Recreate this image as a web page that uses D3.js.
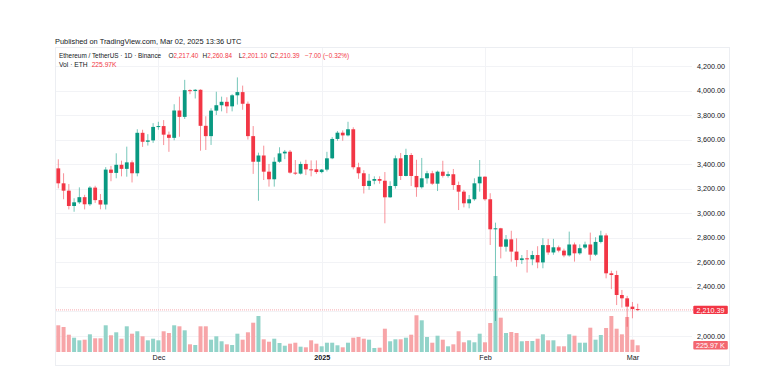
<!DOCTYPE html>
<html>
<head>
<meta charset="utf-8">
<script src="https://cdn.jsdelivr.net/npm/d3@7"></script>
<style>
  body { margin: 0; background: #ffffff; }
  svg { display: block; font-family: "Liberation Sans", Arial, sans-serif; }
</style>
</head>
<body>
<script>
'use strict';

// daily candles, ETH/USDT, 12 Nov 2024 .. 2 Mar 2025
const firstDay = Date.UTC(2024, 10, 12);
const lastDay = Date.UTC(2025, 2, 2);

const opens = [
  3365, 3243, 3183, 3058, 3088, 3130, 3072, 3208, 3106, 3070,
  3355, 3328, 3394, 3361, 3414, 3325, 3655, 3582, 3593, 3703,
  3710, 3640, 3614, 3837, 3785, 4003, 3996, 4006, 3712, 3628,
  3836, 3880, 3908, 3871, 3961, 3987, 3892, 3628, 3419, 3470,
  3338, 3276, 3419, 3487, 3501, 3330, 3322, 3401, 3357, 3357,
  3335, 3355, 3447, 3605, 3656, 3634, 3684, 3374, 3325, 3221,
  3264, 3278, 3264, 3129, 3221, 3447, 3303, 3474, 3303, 3211,
  3284, 3325, 3240, 3338, 3304, 3317, 3229, 3175, 3080, 3113,
  3243, 3297, 3113, 2868, 2876, 2726, 2786, 2686, 2617, 2631,
  2623, 2658, 2598, 2739, 2679, 2721, 2694, 2655, 2744, 2672,
  2719, 2744, 2661, 2765, 2818, 2509, 2495, 2332, 2305, 2237,
  2217.40
];
const highs = [
  3439, 3325, 3237, 3121, 3210, 3149, 3220, 3223, 3156, 3375,
  3385, 3488, 3428, 3542, 3430, 3684, 3680, 3644, 3734, 3745,
  3759, 3665, 3888, 3950, 4087, 4010, 4012, 4010, 3790, 3855,
  3990, 3950, 3945, 3970, 4107, 4040, 3910, 3710, 3493, 3550,
  3401, 3455, 3537, 3515, 3515, 3433, 3420, 3435, 3430, 3430,
  3360, 3500, 3620, 3670, 3675, 3745, 3700, 3411, 3350, 3320,
  3300, 3300, 3335, 3260, 3470, 3490, 3525, 3490, 3435, 3450,
  3345, 3345, 3347, 3427, 3340, 3360, 3257, 3189, 3148, 3284,
  3433, 3300, 3162, 2922, 2880, 2821, 2856, 2794, 2658, 2699,
  2692, 2730, 2795, 2790, 2790, 2735, 2710, 2849, 2760, 2745,
  2767, 2841, 2803, 2856, 2835, 2530, 2530, 2373, 2325, 2275,
  2260.84
];
const lows = [
  3202, 3113, 3030, 3011, 3075, 3030, 3059, 3083, 3031, 3030,
  3260, 3284, 3300, 3297, 3250, 3300, 3540, 3551, 3573, 3680,
  3555, 3500, 3594, 3623, 3768, 3970, 3935, 3509, 3515, 3556,
  3800, 3830, 3815, 3830, 3885, 3843, 3600, 3320, 3101, 3270,
  3216, 3216, 3410, 3440, 3322, 3311, 3315, 3310, 3300, 3320,
  3325, 3340, 3440, 3590, 3590, 3626, 3357, 3280, 3160, 3190,
  3235, 3240, 2917, 3125, 3200, 3270, 3300, 3221, 3133, 3200,
  3240, 3230, 3180, 3290, 3290, 3190, 3025, 3047, 3039, 3101,
  3175, 3101, 2740, 2120, 2631, 2686, 2604, 2563, 2585, 2515,
  2575, 2550, 2550, 2660, 2660, 2680, 2640, 2645, 2604, 2660,
  2707, 2612, 2650, 2753, 2468, 2380, 2250, 2230, 2073, 2142,
  2201.10
];
const closes = [
  3243, 3183, 3058, 3088, 3130, 3072, 3208, 3106, 3070, 3355,
  3328, 3394, 3361, 3414, 3325, 3655, 3582, 3593, 3703, 3710,
  3640, 3614, 3837, 3785, 4003, 3996, 4006, 3712, 3628, 3836,
  3880, 3908, 3871, 3961, 3987, 3892, 3628, 3419, 3470, 3338,
  3276, 3419, 3487, 3501, 3330, 3322, 3401, 3357, 3352, 3335,
  3355, 3447, 3605, 3656, 3634, 3684, 3374, 3325, 3221, 3264,
  3278, 3264, 3129, 3221, 3447, 3303, 3474, 3303, 3211, 3284,
  3325, 3240, 3338, 3304, 3317, 3229, 3175, 3080, 3113, 3243,
  3297, 3113, 2868, 2876, 2726, 2786, 2686, 2617, 2631, 2623,
  2658, 2598, 2739, 2679, 2721, 2694, 2655, 2744, 2672, 2714,
  2744, 2661, 2765, 2818, 2509, 2495, 2332, 2305, 2237, 2217.39,
  2210.39
];
// volume in thousands of ETH
const volumes = [
  900, 843, 583, 482, 394, 415, 596, 462, 462, 900,
  563, 664, 448, 866, 617, 698, 529, 394, 448, 394,
  698, 640, 900, 866, 731, 259, 236, 866, 866, 415,
  529, 361, 259, 236, 617, 415, 664, 987, 1213, 428,
  347, 448, 303, 212, 280, 313, 179, 158, 394, 280,
  192, 313, 313, 226, 158, 313, 482, 506, 448, 415,
  135, 145, 785, 361, 428, 428, 482, 583, 1237, 1068,
  506, 313, 549, 415, 192, 259, 698, 327, 394, 327,
  617, 327, 977, 2561, 1156, 640, 674, 640, 361, 371,
  371, 448, 596, 394, 394, 192, 192, 596, 549, 313,
  313, 819, 415, 573, 809, 1213, 785, 596, 1180, 415,
  225.97
];

const gridPrices = [2000, 2200, 2400, 2600, 2800, 3000, 3200, 3400, 3600, 3800, 4000, 4200];
const priceTickLabels = [2000, 2400, 2600, 2800, 3000, 3200, 3400, 3600, 3800, 4000, 4200];
const monthTickDates = ['2024-12-01', '2025-01-01', '2025-02-01', '2025-03-01'];
const monthTickLabels = ['Dec', '2025', 'Feb', 'Mar'];

(function() {

  const UP = '#089981';
  const DOWN = '#f23645';
  const UP_VOL = '#92d3c9';
  const DOWN_VOL = '#f7a5a8';
  const TEXT = '#131722';

  let svg = '';
  let data = [];

  window.onload = function() {
    svg = d3.select('body').append('svg')
      .attr('width', 770)
      .attr('height', 373);

    let days = d3.utcDay.range(new Date(firstDay), new Date(lastDay + 86400000));
    data = days.map((d, i) => ({
      date: d, open: opens[i], high: highs[i], low: lows[i], close: closes[i], vol: volumes[i]
    }));

    let scales = makeScales();
    drawFrame(scales);
    drawVolume(scales);
    drawCandles(scales);
    drawAxes(scales);
    drawHeader();
  };

  function makeScales() {
    let x = d3.scaleUtc()
      .domain([new Date(firstDay), new Date(lastDay)])
      .range([58.3, 637.7]);

    let y = d3.scaleLinear()
      .domain([2000, 4200])
      .range([335.7, 66]);

    let v = d3.scaleLinear()
      .domain([0, 2561])
      .range([352, 276]);

    return { x: x, y: y, v: v };
  }

  function drawFrame(s) {
    // outer border of the snapshot
    svg.append('rect')
      .attr('x', 55.5).attr('y', 47.5)
      .attr('width', 674).attr('height', 318)
      .attr('fill', 'none')
      .attr('stroke', '#eceef2');

    svg.append('g').selectAll('line')
      .data(gridPrices).enter()
      .append('line')
        .attr('x1', 56).attr('x2', 692)
        .attr('y1', d => Math.round(s.y(d)) + 0.5)
        .attr('y2', d => Math.round(s.y(d)) + 0.5)
        .attr('stroke', '#f2f3f6');

    svg.append('g').selectAll('line')
      .data(monthTickDates).enter()
      .append('line')
        .attr('x1', d => Math.round(s.x(new Date(d))) + 0.5)
        .attr('x2', d => Math.round(s.x(new Date(d))) + 0.5)
        .attr('y1', 48).attr('y2', 353)
        .attr('stroke', '#f2f3f6');
  }

  function drawVolume(s) {
    let w = 4;
    svg.append('g').selectAll('rect')
      .data(data).enter()
      .append('rect')
        .attr('x', d => s.x(d.date) - w / 2)
        .attr('y', d => s.v(d.vol))
        .attr('width', w)
        .attr('height', d => s.v(0) - s.v(d.vol))
        .attr('fill', d => d.close >= d.open ? UP_VOL : DOWN_VOL);
  }

  function drawCandles(s) {
    let w = 3.8;

    // last price dotted line
    let last = data[data.length - 1];
    svg.append('line')
      .attr('x1', 56).attr('x2', 693)
      .attr('y1', s.y(last.close)).attr('y2', s.y(last.close))
      .attr('stroke', '#f7a9ae')
      .attr('stroke-width', 1)
      .attr('stroke-dasharray', '1,1');

    let g = svg.append('g');

    g.selectAll('.wick')
      .data(data).enter()
      .append('line')
        .attr('class', 'wick')
        .attr('x1', d => s.x(d.date))
        .attr('x2', d => s.x(d.date))
        .attr('y1', d => s.y(d.high))
        .attr('y2', d => s.y(d.low))
        .attr('stroke', d => d.close >= d.open ? UP : DOWN)
        .attr('stroke-opacity', 0.55)
        .attr('stroke-width', 1);

    g.selectAll('.body')
      .data(data).enter()
      .append('rect')
        .attr('class', 'body')
        .attr('x', d => s.x(d.date) - w / 2)
        .attr('y', d => s.y(Math.max(d.open, d.close)))
        .attr('width', w)
        .attr('height', d => Math.max(1, Math.abs(s.y(d.open) - s.y(d.close))))
        .attr('fill', d => d.close >= d.open ? UP : DOWN);
  }

  function drawAxes(s) {
    let fmt = d3.format(',.2f');

    let yAxis = d3.axisRight(s.y)
      .tickValues(priceTickLabels)
      .tickFormat(fmt)
      .tickSize(0)
      .tickPadding(0);

    let ay = svg.append('g')
      .attr('transform', 'translate(697, 0)')
      .call(yAxis);
    ay.select('.domain').remove();
    ay.selectAll('text')
      .attr('font-size', '7.2px')
      .attr('font-family', '"Liberation Sans", Arial, sans-serif')
      .attr('fill', TEXT);

    let xAxis = d3.axisBottom(s.x)
      .tickValues(monthTickDates.map(d => new Date(d)))
      .tickFormat((d, i) => monthTickLabels[i])
      .tickSize(0)
      .tickPadding(0);

    let ax = svg.append('g')
      .attr('transform', 'translate(0, 355)')
      .call(xAxis);
    ax.select('.domain').remove();
    ax.selectAll('text')
      .attr('font-size', '7.2px')
      .attr('font-family', '"Liberation Sans", Arial, sans-serif')
      .attr('font-weight', (d, i) => monthTickLabels[i] == '2025' ? 'bold' : 'normal')
      .attr('fill', TEXT);

    // last price and volume tags
    let last = data[data.length - 1];
    let py = s.y(last.close);
    svg.append('rect')
      .attr('x', 693.3).attr('y', py - 4.2)
      .attr('width', 34.5).attr('height', 8.4)
      .attr('rx', 1)
      .attr('fill', DOWN);
    svg.append('text')
      .attr('x', 710.5).attr('y', py + 2.6)
      .attr('text-anchor', 'middle')
      .attr('font-size', '7.2px')
      .attr('fill', '#ffffff')
      .text(fmt(last.close));

    let vy = s.v(last.vol);
    svg.append('rect')
      .attr('x', 693.3).attr('y', vy - 4.2)
      .attr('width', 34.5).attr('height', 8.4)
      .attr('rx', 1)
      .attr('fill', '#f3666f');
    svg.append('text')
      .attr('x', 710.5).attr('y', vy + 2.6)
      .attr('text-anchor', 'middle')
      .attr('font-size', '7.2px')
      .attr('fill', '#ffffff')
      .text(last.vol.toFixed(2) + ' K');
  }

  function drawHeader() {
    svg.append('text')
      .attr('x', 55).attr('y', 43.5)
      .attr('font-size', '7.4px')
      .attr('fill', TEXT)
      .text('Published on TradingView.com, Mar 02, 2025 13:36 UTC');

    let last = data[data.length - 1];
    let prev = data[data.length - 2];
    let fmt = d3.format(',.2f');

    let t = svg.append('g')
      .attr('font-size', '6.4px')
      .attr('fill', TEXT);

    t.append('text').attr('x', 59).attr('y', 58.3)
      .text('Ethereum / TetherUS · 1D · Binance');

    let ohlc = [['O', last.open, 168.5], ['H', last.high, 202.5], ['L', last.low, 238.8], ['C', last.close, 270]];
    ohlc.forEach(p => {
      let tx = t.append('text').attr('x', p[2]).attr('y', 58.3);
      tx.append('tspan').text(p[0]);
      tx.append('tspan').attr('fill', DOWN).text(fmt(p[1]));
    });

    let ch = last.close - prev.close;
    t.append('text').attr('x', 305).attr('y', 58.3)
      .attr('fill', DOWN)
      .text('−' + Math.abs(ch).toFixed(2) + ' (−' + Math.abs(ch / prev.close * 100).toFixed(2) + '%)');

    let v = t.append('text')
      .attr('x', 59).attr('y', 67)
      .attr('font-size', '6.7px');
    v.append('tspan').text('Vol · ETH');
    v.append('tspan').attr('dx', 4).attr('fill', DOWN).text(last.vol.toFixed(2) + 'K');
  }

})();
</script>
</body>
</html>
